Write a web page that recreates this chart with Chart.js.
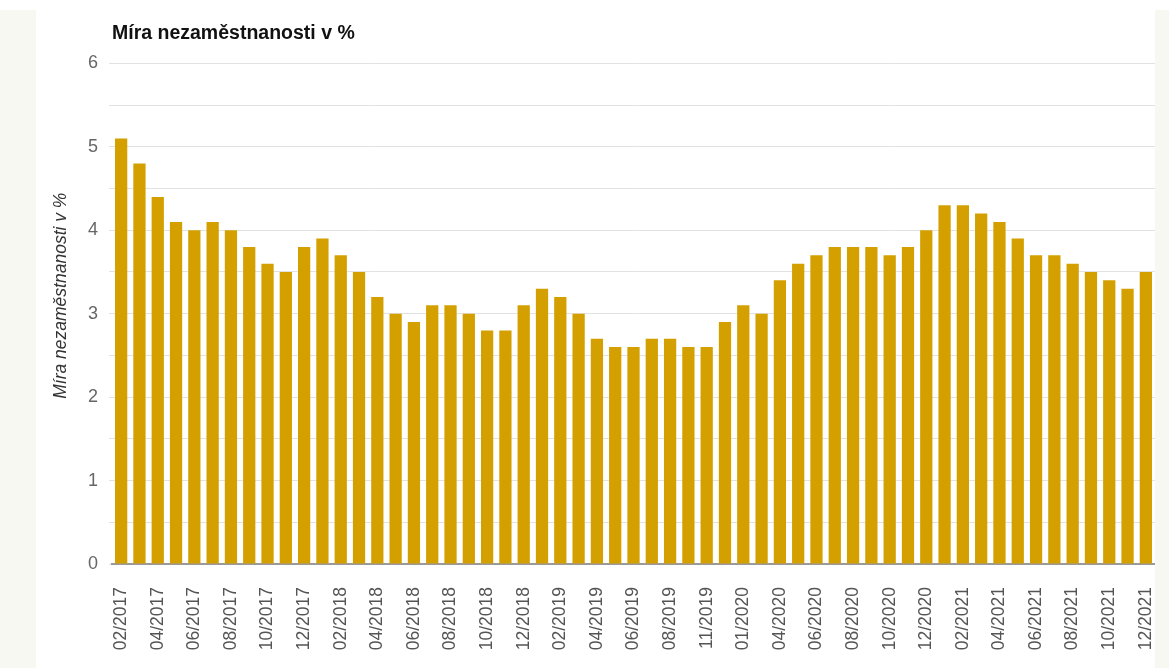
<!DOCTYPE html>
<html lang="cs">

<head>
    <meta charset="UTF-8">
    <meta name="viewport" content="width=device-width, initial-scale=1.0">
    <title>Míra nezaměstnanosti</title>
    <script src="https://cdn.jsdelivr.net/npm/chart.js"></script>
    <style>
        body {
            margin: 0;
            background-color: #ffffff;
            font-family: "Liberation Sans", Arial, sans-serif;
        }

        .side {
            position: absolute;
            top: 10px;
            bottom: 0;
            background-color: #f8f8f2;
        }

        #leftSide {
            left: 0;
            width: 36px;
        }

        #rightSide {
            left: 1155px;
            width: 14px;
        }

        #chartContainer {
            position: absolute;
            left: 36px;
            top: 0;
            width: 1119px;
            height: 668px;
        }
    </style>
</head>

<body>
    <div id="leftSide" class="side"></div>
    <div id="rightSide" class="side"></div>

    <div id="chartContainer">
        <canvas id="unemploymentChart"></canvas>
    </div>

    <script>
        // Měsíce (některé měsíce v řadě chybí)
        const months = [
            '02/2017', '03/2017', '04/2017', '05/2017', '06/2017', '07/2017', '08/2017', '09/2017', '10/2017', '11/2017', '12/2017',
            '01/2018', '02/2018', '03/2018', '04/2018', '05/2018', '06/2018', '07/2018', '08/2018', '09/2018', '10/2018', '11/2018', '12/2018',
            '01/2019', '02/2019', '03/2019', '04/2019', '05/2019', '06/2019', '07/2019', '08/2019', '10/2019', '11/2019', '12/2019',
            '01/2020', '03/2020', '04/2020', '05/2020', '06/2020', '07/2020', '08/2020', '09/2020', '10/2020', '11/2020', '12/2020',
            '01/2021', '02/2021', '03/2021', '04/2021', '05/2021', '06/2021', '07/2021', '08/2021', '09/2021', '10/2021', '11/2021', '12/2021'
        ];

        // Míra nezaměstnanosti v %
        const rates = [
            5.1, 4.8, 4.4, 4.1, 4.0, 4.1, 4.0, 3.8, 3.6, 3.5, 3.8,
            3.9, 3.7, 3.5, 3.2, 3.0, 2.9, 3.1, 3.1, 3.0, 2.8, 2.8, 3.1,
            3.3, 3.2, 3.0, 2.7, 2.6, 2.6, 2.7, 2.7, 2.6, 2.6, 2.9,
            3.1, 3.0, 3.4, 3.6, 3.7, 3.8, 3.8, 3.8, 3.7, 3.8, 4.0,
            4.3, 4.3, 4.2, 4.1, 3.9, 3.7, 3.7, 3.6, 3.5, 3.4, 3.3, 3.5
        ];

        const chartTitle = 'Míra nezaměstnanosti v %';
        const yMin = 0;
        const yMax = 6;
        const fontFamily = '"Liberation Sans", Arial, sans-serif';

        // Popisek osy Y kreslíme sami, aby šel posunout nad střed osy
        const yAxisTitle = {
            id: 'yAxisTitle',
            afterDraw(chart) {
                const { ctx, chartArea } = chart;
                const cy = chartArea.top + (chartArea.bottom - chartArea.top) * 0.464;
                ctx.save();
                ctx.translate(25, cy);
                ctx.rotate(-Math.PI / 2);
                ctx.font = 'italic 17.5px ' + fontFamily;
                ctx.fillStyle = '#333';
                ctx.textAlign = 'center';
                ctx.textBaseline = 'middle';
                ctx.fillText(chartTitle, 0, 0);
                ctx.restore();
            }
        };

        new Chart(document.getElementById('unemploymentChart'), {
            type: 'bar',
            data: {
                labels: months,
                datasets: [{
                    label: chartTitle,
                    data: rates,
                    backgroundColor: '#d4a000',
                    barPercentage: 0.67,
                    categoryPercentage: 1
                }]
            },
            options: {
                responsive: true,
                maintainAspectRatio: false,
                animation: false,
                layout: { padding: 0 },
                plugins: {
                    legend: { display: false },
                    tooltip: { enabled: false },
                    title: {
                        display: true,
                        text: chartTitle,
                        align: 'start',
                        fullSize: false,
                        color: '#111',
                        font: { family: fontFamily, size: 19.5, weight: 'bold' },
                        padding: { top: 22, bottom: 18 }
                    }
                },
                scales: {
                    x: {
                        grid: { display: false },
                        border: { display: true, color: '#9a9a9a', width: 2 },
                        ticks: {
                            autoSkip: false,
                            minRotation: 90,
                            maxRotation: 90,
                            padding: 15,
                            color: '#555',
                            font: { family: fontFamily, size: 17.5 },
                            // popisek jen u každého druhého sloupce
                            callback: (value, index) => index % 2 === 0 ? months[index] : ''
                        },
                        afterFit: scale => {
                            scale.height = 104;
                            scale.paddingLeft = 0;
                            scale.paddingRight = 0;
                        }
                    },
                    y: {
                        min: yMin,
                        max: yMax,
                        grid: { color: '#e2e2e2', tickLength: 3 },
                        border: { display: false },
                        ticks: {
                            stepSize: 0.5,
                            padding: 11,
                            color: '#666',
                            font: { family: fontFamily, size: 18 },
                            callback: value => Number.isInteger(value) ? value : ''
                        },
                        afterFit: scale => { scale.width = 76; }
                    }
                }
            },
            plugins: [yAxisTitle]
        });
    </script>
</body>

</html>
